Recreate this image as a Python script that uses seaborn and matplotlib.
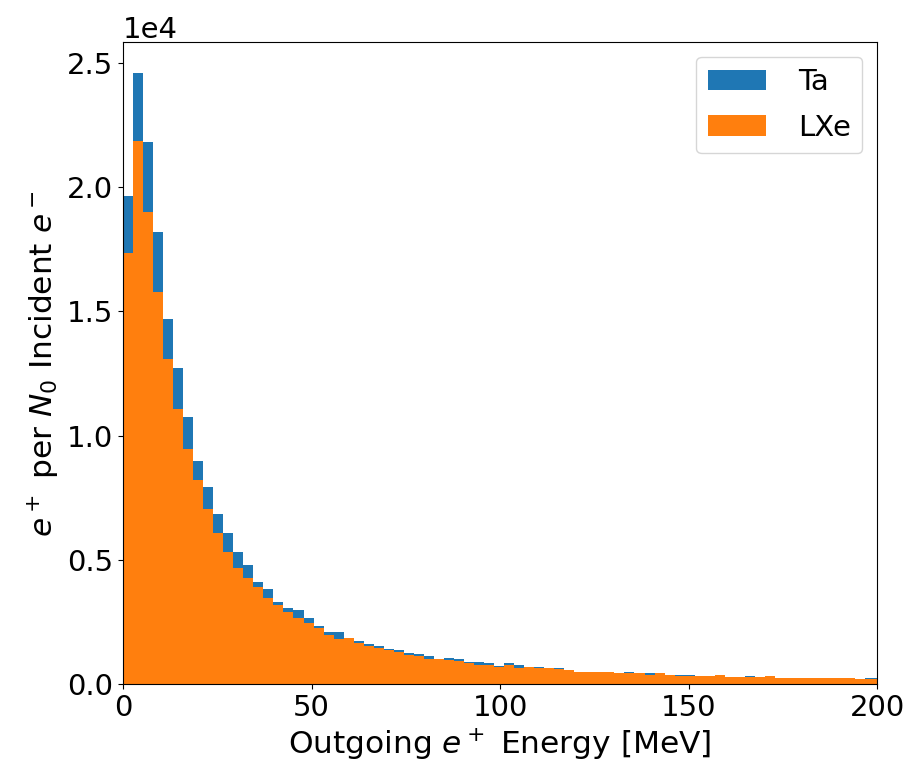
import numpy as np
import pandas as pd
import matplotlib
matplotlib.use('Agg')
import matplotlib.pyplot as plt
from matplotlib.ticker import MultipleLocator
import seaborn as sns

# bin width (~2.66 MeV), 76 bins covering 0-200
bin_width = 2.66
n_bins = 76
centers = (np.arange(n_bins) + 0.5) * bin_width

# positrons per bin, in units of 1e4
ta = [1.965, 2.461, 2.180, 1.818, 1.470, 1.271, 1.074, 0.897, 0.793, 0.683,
      0.606, 0.532, 0.478, 0.411, 0.381, 0.332, 0.307, 0.296, 0.264, 0.233,
      0.210, 0.210, 0.182, 0.173, 0.161, 0.154, 0.142, 0.136, 0.124, 0.119,
      0.113, 0.098, 0.105, 0.099, 0.088, 0.087, 0.083, 0.074, 0.083, 0.075,
      0.067, 0.069, 0.065, 0.064, 0.056, 0.048, 0.047, 0.048, 0.050, 0.043,
      0.049, 0.042, 0.043, 0.042, 0.036, 0.037, 0.037, 0.031, 0.031, 0.035,
      0.029, 0.028, 0.032, 0.026, 0.031, 0.024, 0.024, 0.024, 0.024, 0.024,
      0.024, 0.024, 0.024, 0.019, 0.025, 0.025]
lxe = [1.735, 2.186, 1.898, 1.577, 1.309, 1.105, 0.947, 0.820, 0.703, 0.606,
       0.532, 0.465, 0.427, 0.391, 0.348, 0.319, 0.288, 0.264, 0.244, 0.226,
       0.197, 0.180, 0.184, 0.166, 0.153, 0.143, 0.135, 0.128, 0.116, 0.113,
       0.099, 0.099, 0.096, 0.092, 0.083, 0.076, 0.076, 0.068, 0.076, 0.063,
       0.068, 0.066, 0.063, 0.060, 0.056, 0.049, 0.049, 0.049, 0.047, 0.044,
       0.044, 0.043, 0.037, 0.043, 0.037, 0.032, 0.032, 0.032, 0.032, 0.037,
       0.030, 0.029, 0.027, 0.027, 0.032, 0.025, 0.025, 0.025, 0.025, 0.025,
       0.025, 0.025, 0.025, 0.020, 0.020, 0.020]

df = pd.DataFrame({'energy': centers,
                   'Ta': np.array(ta) * 1e4,
                   'LXe': np.array(lxe) * 1e4})

plt.rcParams['font.size'] = 21
fig = plt.figure(figsize=(9.07, 7.74), dpi=100)
ax = fig.add_axes([0.1356, 0.1163, 0.8314, 0.8294])

brange = (0, n_bins * bin_width)
sns.histplot(data=df, x='energy', weights='Ta', binwidth=bin_width, binrange=brange,
             color='#1f77b4', alpha=1, linewidth=0, label='Ta', ax=ax)
sns.histplot(data=df, x='energy', weights='LXe', binwidth=bin_width, binrange=brange,
             color='#ff7f0e', alpha=1, linewidth=0, label='LXe', ax=ax)

ax.set_xlim(0, 200)
ax.set_ylim(0, df['Ta'].max() * 1.05)
ax.xaxis.set_major_locator(MultipleLocator(50))
ax.ticklabel_format(axis='y', style='sci', scilimits=(0, 0))
ax.set_xlabel(r'Outgoing $e^+$ Energy [MeV]', fontsize=22.5)
ax.set_ylabel(r'$e^+$ per $N_0$ Incident $e^-$', fontsize=22.5)
ax.legend(loc='upper right', fontsize=21, handletextpad=1.1, labelspacing=0.6)

fig.savefig('out.png', dpi=100)
